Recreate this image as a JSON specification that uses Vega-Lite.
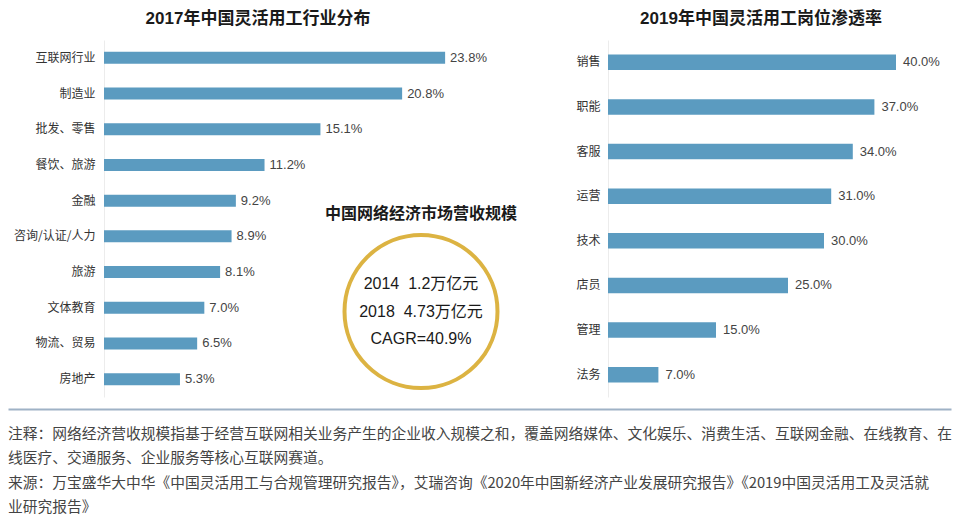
{
  "$schema": "https://vega.github.io/schema/vega-lite/v6.json",
  "padding": {"left": 8, "top": 10, "right": 0, "bottom": 0},
  "background": "white",
  "config": {
    "view": {"stroke": null},
    "font": "'Liberation Sans', 'Noto Sans CJK SC', sans-serif"
  },
  "datasets": {
    "industry": [
      {"industry": "互联网行业", "share": 0.238},
      {"industry": "制造业", "share": 0.208},
      {"industry": "批发、零售", "share": 0.151},
      {"industry": "餐饮、旅游", "share": 0.112},
      {"industry": "金融", "share": 0.092},
      {"industry": "咨询/认证/人力", "share": 0.089},
      {"industry": "旅游", "share": 0.081},
      {"industry": "文体教育", "share": 0.070},
      {"industry": "物流、贸易", "share": 0.065},
      {"industry": "房地产", "share": 0.053}
    ],
    "roles": [
      {"role": "销售", "rate": 0.40},
      {"role": "职能", "rate": 0.37},
      {"role": "客服", "rate": 0.34},
      {"role": "运营", "rate": 0.31},
      {"role": "技术", "rate": 0.30},
      {"role": "店员", "rate": 0.25},
      {"role": "管理", "rate": 0.15},
      {"role": "法务", "rate": 0.07}
    ],
    "market": [
      {"line": 1, "text": "2014\u00a0\u00a01.2万亿元"},
      {"line": 2, "text": "2018\u00a0\u00a04.73万亿元"},
      {"line": 3, "text": "CAGR=40.9%"}
    ],
    "notes": [
      {"line": 1, "text": "注释：网络经济营收规模指基于经营互联网相关业务产生的企业收入规模之和，覆盖网络媒体、文化娱乐、消费生活、互联网金融、在线教育、在"},
      {"line": 2, "text": "线医疗、交通服务、企业服务等核心互联网赛道。"},
      {"line": 3, "text": "来源：万宝盛华大中华《中国灵活用工与合规管理研究报告》，艾瑞咨询《2020年中国新经济产业发展研究报告》《2019中国灵活用工及灵活就"},
      {"line": 4, "text": "业研究报告》"}
    ]
  },
  "spacing": 12,
  "vconcat": [
    {
      "hconcat": [
        {
          "width": 16,
          "height": 1,
          "data": {"values": []},
          "mark": {"type": "point", "opacity": 0},
          "encoding": {}
        },
        {
          "width": 130,
          "height": 357,
          "title": {"text": "2017年中国灵活用工行业分布", "fontSize": 17, "fontWeight": "bold", "anchor": "middle", "frame": "group", "dx": 89, "offset": 12, "baseline": "top", "color": "#1a1a1a"},
          "data": {"name": "industry"},
          "encoding": {
            "y": {"field": "industry", "type": "nominal", "sort": null,
                  "scale": {"paddingInner": 0.664, "paddingOuter": 0.332},
                  "axis": {"title": null, "ticks": false, "domainColor": "#ececec", "labelFontSize": 12, "labelColor": "#333333", "labelPadding": 9, "labelFont": "'Noto Sans CJK SC', sans-serif"}},
            "x": {"field": "share", "type": "quantitative", "scale": {"domain": [0, 0.0907], "nice": false}, "axis": null}
          },
          "layer": [
            {"mark": {"type": "bar", "color": "#5b9bc0", "clip": false}},
            {"mark": {"type": "text", "align": "left", "dx": 5, "fontSize": 13, "color": "#444444", "clip": false},
             "encoding": {"text": {"field": "share", "type": "quantitative", "format": ".1%"}}}
          ]
        },
        {
          "width": 214,
          "height": 357,
          "title": {"text": "中国网络经济市场营收规模", "fontSize": 16, "fontWeight": "bold", "anchor": "middle", "frame": "group", "offset": -182, "baseline": "top", "color": "#1a1a1a"},
          "data": {"name": "market"},
          "encoding": {
            "y": {"field": "line", "type": "quantitative",
                  "scale": {"domain": [-7.873, 5.109], "reverse": true, "nice": false, "zero": false},
                  "axis": null}
          },
          "layer": [
            {"transform": [{"filter": "datum.line === 2"}],
             "mark": {"type": "point", "shape": "circle", "size": 23409, "filled": false, "stroke": "#dcb342", "strokeWidth": 4, "opacity": 1}},
            {"mark": {"type": "text", "fontSize": 16, "color": "#1a1a1a"},
             "encoding": {"text": {"field": "text", "type": "nominal"}}}
          ]
        },
        {
          "width": 306,
          "height": 357,
          "title": {"text": "2019年中国灵活用工岗位渗透率", "fontSize": 17, "fontWeight": "bold", "anchor": "middle", "frame": "group", "offset": 12, "baseline": "top", "color": "#1a1a1a"},
          "data": {"name": "roles"},
          "encoding": {
            "y": {"field": "role", "type": "nominal", "sort": null,
                  "scale": {"paddingInner": 0.652, "paddingOuter": 0.326},
                  "axis": {"title": null, "ticks": false, "domainColor": "#ececec", "labelFontSize": 12, "labelColor": "#333333", "labelPadding": 8, "labelFont": "'Noto Sans CJK SC', sans-serif"}},
            "x": {"field": "rate", "type": "quantitative", "scale": {"domain": [0, 0.425], "nice": false}, "axis": null}
          },
          "layer": [
            {"mark": {"type": "bar", "color": "#5b9bc0", "clip": false}},
            {"mark": {"type": "text", "align": "left", "dx": 7, "fontSize": 13, "color": "#444444", "clip": false},
             "encoding": {"text": {"field": "rate", "type": "quantitative", "format": ".1%"}}}
          ]
        }
      ],
      "spacing": 80,
      "bounds": "flush"
    },
    {
      "width": 943,
      "height": 115,
      "data": {"name": "notes"},
      "mark": {"type": "text", "align": "left", "baseline": "middle", "fontSize": 14.75, "color": "#444444", "font": "'Noto Sans CJK SC', sans-serif"},
      "encoding": {
        "x": {"datum": 0, "type": "quantitative", "scale": {"domain": [0, 1]},
              "axis": {"orient": "top", "domainColor": "#9fb2c6", "domainWidth": 2, "ticks": false, "labels": false, "grid": false, "title": null}},
        "y": {"field": "line", "type": "ordinal", "scale": {"type": "band", "paddingInner": 0, "paddingOuter": 0.363, "align": 0.783}, "axis": null},
        "text": {"field": "text", "type": "nominal"}
      }
    }
  ]
}
